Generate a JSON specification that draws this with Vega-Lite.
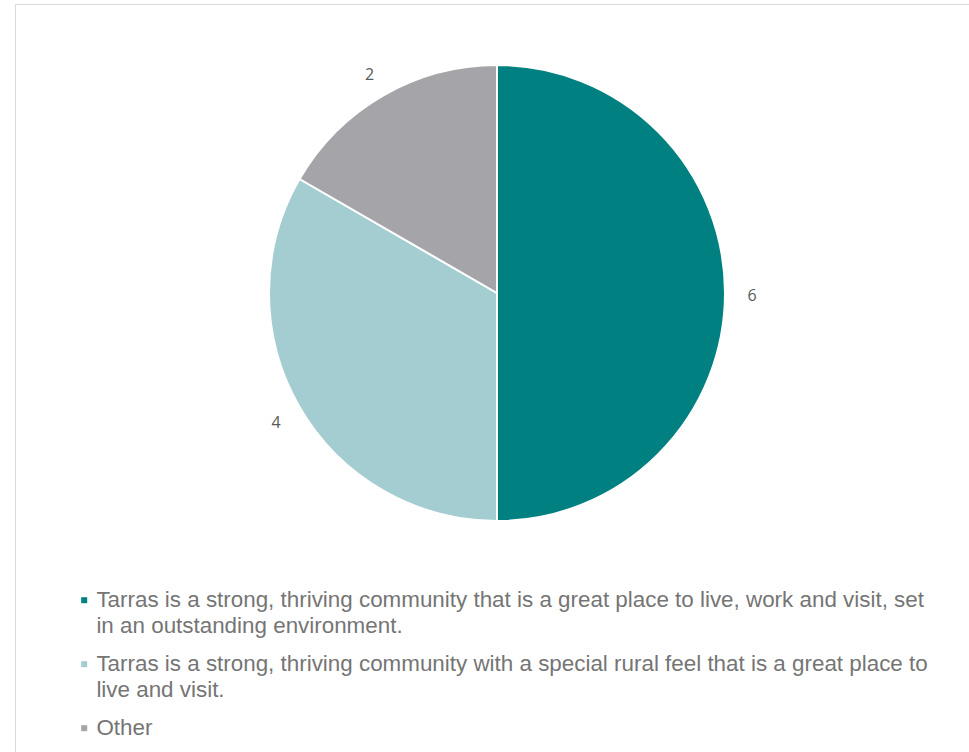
{
  "$schema": "https://vega.github.io/schema/vega-lite/v6.json",
  "width": 954,
  "height": 748,
  "autosize": {"type": "none"},
  "padding": {"left": 15, "top": 4, "right": 0, "bottom": 0},
  "background": "white",
  "config": {
    "view": {"stroke": "#d9d9d9", "strokeWidth": 1},
    "style": {"guide-label": {"lineHeight": 26}}
  },
  "data": {
    "values": [
      {"category": "Tarras is a strong, thriving community that is a great place to live, work and visit, set in an outstanding environment.", "value": 6, "order": 1},
      {"category": "Tarras is a strong, thriving community with a special rural feel that is a great place to live and visit.", "value": 4, "order": 2},
      {"category": "Other", "value": 2, "order": 3}
    ]
  },
  "encoding": {
    "theta": {"field": "value", "type": "quantitative", "stack": true},
    "order": {"field": "order", "type": "quantitative"},
    "x": {"datum": 0.50524, "type": "quantitative", "scale": {"domain": [0, 1]}, "axis": null},
    "y": {"datum": 0.61364, "type": "quantitative", "scale": {"domain": [0, 1]}, "axis": null}
  },
  "layer": [
    {
      "mark": {"type": "arc", "outerRadius": 228, "stroke": "white", "strokeWidth": 2},
      "encoding": {
        "color": {
          "field": "category",
          "type": "nominal",
          "sort": null,
          "scale": {
            "domain": [
              "Tarras is a strong, thriving community that is a great place to live, work and visit, set in an outstanding environment.",
              "Tarras is a strong, thriving community with a special rural feel that is a great place to live and visit.",
              "Other"
            ],
            "range": ["#008080", "#a3cdd1", "#a5a5a9"]
          },
          "legend": {
            "title": null,
            "orient": "none",
            "legendX": 58,
            "legendY": 585,
            "symbolType": "square",
            "symbolSize": 36,
            "symbolStrokeWidth": 0,
            "labelFont": "Liberation Sans",
            "labelFontSize": 22.4,
            "labelColor": "#757575",
            "labelLimit": 900,
            "labelOffset": 1,
            "labelBaseline": "middle",
            "rowPadding": 15,
            "labelExpr": "indexof(datum.label, 'outstanding') >= 0 ? ['Tarras is a strong, thriving community that is a great place to live, work and visit, set', 'in an outstanding environment.'] : indexof(datum.label, 'rural') >= 0 ? ['Tarras is a strong, thriving community with a special rural feel that is a great place to', 'live and visit.'] : datum.label"
          }
        }
      }
    },
    {
      "mark": {"type": "text", "radius": 255, "font": "Open Sans", "fontSize": 16, "dy": 3, "fill": "#595959"},
      "encoding": {"text": {"field": "value", "type": "quantitative"}}
    }
  ]
}
